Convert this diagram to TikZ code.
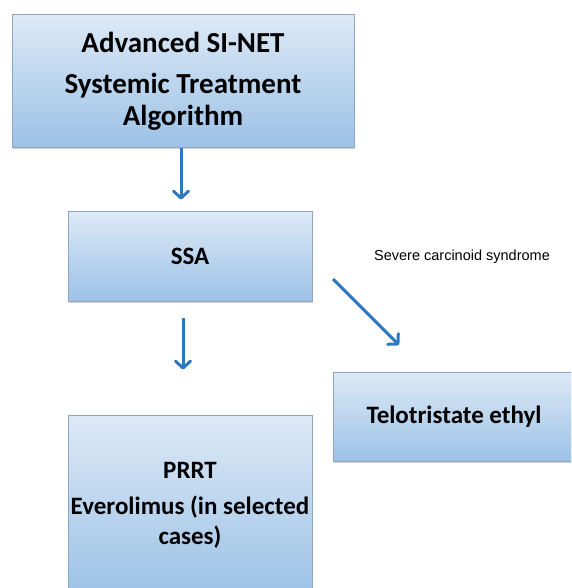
\documentclass[tikz,border=0pt]{standalone}
\usepackage{fontspec}
\setmainfont{Carlito}
\newfontfamily\arialfont{Liberation Sans}
\usetikzlibrary{arrows.meta,shadows}
\definecolor{boxtop}{HTML}{DDE9F6}
\definecolor{boxbottom}{HTML}{9CC2E6}
\definecolor{boxline}{HTML}{8FA6C0}
\definecolor{arrowblue}{HTML}{2E78C0}
\begin{document}
\begin{tikzpicture}[x=1pt,y=-1pt,
    box/.style={draw=boxline, line width=0.8pt, top color=boxtop, bottom color=boxbottom,
      drop shadow={opacity=0.35, shadow xshift=1pt, shadow yshift=-1.5pt},
      align=center, inner sep=0pt, font=\bfseries\fontsize{25}{30}\selectfont},
    flow/.style={draw=arrowblue, line width=3pt, line join=round,
      -{Straight Barb[length=7pt,width=15pt,round]}}]
    \useasboundingbox (0,0) rectangle (571,588);
    \clip (0,0) rectangle (571,588);
        \node[box, minimum width=342pt, minimum height=133pt,
            font=\bfseries\fontsize{29}{32}\selectfont] (title) at (183,81)
            {Advanced SI-NET\\[9pt]Systemic Treatment\\Algorithm};
        \node[box, minimum width=244pt, minimum height=90pt] (ssa) at (190,256) {SSA};
        \node[box, minimum width=242pt, minimum height=89pt] (telo) at (454,416.5) {Telotristate ethyl};
        \node[box, minimum width=244pt, minimum height=180pt] (prrt) at (190,505)
            {PRRT\\[6pt]Everolimus (in selected\\cases)};
        \node[font=\arialfont\fontsize{14.5}{17}\selectfont] (cond) at (462,257) {Severe carcinoid syndrome};
        \coordinate (diagstart) at (333,279);
        \coordinate (diagend) at (399,345);
        \draw[flow, shorten >=11pt] (title.south -| 181,0) -- (ssa.north -| 181,0);
        \draw[flow, shorten <=17pt, shorten >=45pt] (ssa.south -| 183,0) -- (prrt.north -| 183,0);
        \draw[flow] (diagstart) -- (diagend);
\end{tikzpicture}
\end{document}
